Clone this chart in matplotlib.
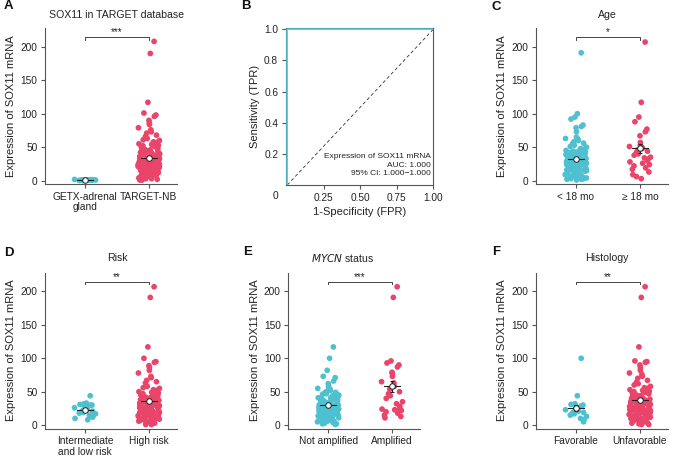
import numpy as np
import matplotlib
matplotlib.use("Agg")
import matplotlib.pyplot as plt

plt.rcParams['font.family'] = ['Liberation Sans', 'DejaVu Sans']

TEAL = '#4ec0cf'
RED = '#e9446a'
SPINE = '#555555'
TXT = '#222222'

W, H = 677, 459

# ---------------- data ----------------
a_labels = ["GETX-adrenal\ngland", "TARGET-NB"]
a_gtex = [0.5, 0.8, 1.2, 0.3, 0.9, 1.5, 0.6, 1.0, 0.4, 1.8, 0.7, 1.1, 0.2, 1.3, 0.9, 0.6,
          0.4, 1.0, 0.7, 1.4]
a_nb = [208, 190, 117, 101, 98, 96, 90, 86, 84, 79, 76, 73, 71, 68, 66, 63, 61, 60, 58, 57,
        56, 55, 54, 53, 52, 51, 50,
        49, 47, 46, 46, 44, 43, 42, 42, 41, 40, 39, 39, 38, 37, 37, 36, 35, 35, 34, 34, 33, 32,
        32, 31, 31, 30, 30, 29, 29, 28, 28, 28, 27, 27, 26, 26, 26, 25, 25, 24, 24, 24, 23, 23,
        22, 22, 21, 21, 21, 20, 20, 19, 19, 18, 18, 17, 17, 16, 16, 15, 15, 14, 14, 13, 12, 12,
        11, 10, 9, 8, 7, 6, 5, 4, 3, 2, 1, 45, 38, 33, 27, 22, 18, 14, 10, 6, 3, 36, 29, 25, 20,
        16, 11, 8, 40, 34, 30, 23, 19, 13, 9, 5, 2, 43, 37, 31, 27, 24, 21, 17, 15, 12, 7, 4, 1,
        33, 28, 22, 18, 25, 20]

c_labels = ["< 18 mo", "\u2265 18 mo"]
c_young = [191, 100, 95, 92, 83, 81, 79, 73, 65, 63, 62, 60, 58, 56, 55, 53, 51, 50,
           48, 47, 46, 45, 44, 43, 42, 41, 40, 39, 38, 38, 37, 36, 35, 35, 34, 33, 33, 32,
           31, 31, 30, 30, 29, 29, 28, 28, 27, 27, 26, 26, 25, 25, 24, 24, 23, 22, 22, 21,
           21, 20, 19, 19, 18, 17, 16, 16, 15, 14, 13, 12, 11, 10, 9, 8, 7, 6, 5, 4, 3, 2,
           1, 44, 37, 30, 24, 18, 12, 6, 41, 34, 27, 21, 15, 9, 3, 36, 29, 23, 17, 11, 39,
           32, 26, 20, 14, 8, 2, 28, 22, 33]
c_old = [207, 117, 95, 88, 77, 73, 67, 57, 53, 51, 50, 48, 46, 44, 42, 40, 38, 35, 34, 32,
         30, 28, 26, 24, 22, 19, 17, 13, 9, 6, 3]

d_labels = ["Intermediate\nand low risk", "High risk"]
d_low = [44, 33, 32, 31, 30, 30, 29, 28, 27, 26, 25, 23, 22, 21, 20, 19, 18, 17, 15, 13,
         12, 10, 8]
d_high = [207, 191, 117, 100, 95, 94, 89, 86, 82, 78, 73, 71, 67, 65, 63, 58, 56, 55, 53,
          52, 51, 50, 49, 48, 47, 46, 45, 44, 43, 42, 41, 40, 40, 39, 38, 37, 37, 36, 35,
          35, 34, 33, 33, 32, 31, 31, 30, 30, 29, 28, 28, 27, 27, 26, 26, 25, 25, 24, 24,
          23, 22, 22, 21, 21, 20, 19, 19, 18, 17, 16, 16, 15, 14, 13, 12, 11, 10, 9, 8, 7,
          6, 5, 4, 3, 2, 1, 45, 38, 32, 26, 20, 14, 9, 4, 42, 36, 29, 23, 17, 12, 6, 1, 39,
          34, 27, 21, 15, 10, 44, 30, 24, 18]

e_labels = ["Not amplified", "Amplified"]
e_not = [117, 100, 82, 73, 71, 66, 62, 58, 57, 55, 53, 52, 50, 49, 48, 47, 46, 45, 44,
         43, 42, 41, 40, 39, 38, 38, 37, 36, 35, 35, 34, 33, 33, 32, 31, 31, 30, 30, 29,
         29, 28, 28, 27, 27, 26, 26, 25, 25, 24, 24, 23, 22, 22, 21, 21, 20, 19, 19, 18,
         17, 16, 16, 15, 14, 13, 12, 11, 10, 9, 8, 7, 6, 5, 4, 3, 2, 1, 44, 37, 30, 24, 18,
         12, 6, 41, 34, 27, 21, 15, 9, 3, 36, 29, 23, 17, 11, 39, 32, 26, 20, 14, 8, 2]
e_amp = [207, 191, 96, 93, 90, 87, 79, 77, 73, 65, 63, 58, 54, 50, 47, 44, 40, 35, 32, 28,
         25, 24, 23, 22, 20, 18, 15, 13, 11]

f_labels = ["Favorable", "Unfavorable"]
f_fav = [100, 44, 32, 31, 30, 29, 28, 27, 25, 23, 22, 21, 20, 19, 18, 17, 15, 13, 10, 8, 5]
f_unf = [207, 191, 117, 96, 95, 94, 90, 86, 82, 78, 76, 73, 70, 67, 64, 62, 60, 58, 56,
         55, 54, 53, 52, 51, 50, 49, 48, 47, 46, 45, 44, 43, 42, 41, 40, 40, 39, 38, 37,
         37, 36, 35, 35, 34, 33, 33, 32, 31, 31, 30, 30, 29, 28, 28, 27, 27, 26, 26, 25,
         25, 24, 24, 23, 22, 22, 21, 21, 20, 19, 19, 18, 17, 16, 16, 15, 14, 13, 12, 11,
         10, 9, 8, 7, 6, 5, 4, 3, 2, 1, 45, 38, 32, 26, 20, 14, 9, 4, 42, 36, 29, 23, 17,
         12, 6, 1, 39, 34, 27, 21, 15, 10, 44, 30, 24, 18, 35, 28, 22]

roc_fpr = [0.0, 0.0, 1.0]
roc_tpr = [0.0, 1.0, 1.0]

# ---------------- helpers ----------------
def add_axes_px(fig, left, top, right, bottom):
    return fig.add_axes([left / W, 1 - bottom / H, (right - left) / W, (bottom - top) / H])


def jitter(n, width):
    # deterministic, irregular horizontal spread (positions only)
    idx = np.arange(n) + 1.0
    u = np.sin(idx * 12.9898 + 78.233) * 43758.5453
    u = u - np.floor(u)
    return (u - 0.5) * 2 * width


def style_axes(ax):
    for s in ['top', 'right']:
        ax.spines[s].set_visible(False)
    for s in ['left', 'bottom']:
        ax.spines[s].set_color(SPINE)
        ax.spines[s].set_linewidth(0.8)
    ax.tick_params(colors=SPINE, labelcolor=TXT, labelsize=7.3, length=3, width=0.8, pad=2.5)


def strip_panel(ax, groups, labels, stars):
    colors = [TEAL, RED]
    for i, vals in enumerate(groups):
        v = np.asarray(vals, dtype=float)
        x = i + jitter(len(v), 0.17)
        ax.scatter(x, v, s=17, color=colors[i], edgecolors='none', zorder=2)
        m = v.mean()
        se = v.std(ddof=1) / np.sqrt(len(v))
        ax.plot([i - 0.13, i + 0.13], [m, m], color=TXT, lw=0.8, zorder=3)
        ax.errorbar([i], [m], yerr=[se], color=TXT, lw=0.8, capsize=1.5,
                    capthick=0.8, zorder=3)
        ax.scatter([i], [m], s=16, color='white', edgecolors=TXT, linewidths=0.7,
                   zorder=4)
    yb = 214
    ax.plot([0, 0, 1, 1], [yb - 3.5, yb, yb, yb - 3.5], color='#444444', lw=0.7)
    ax.text(0.5, yb + 0.5, stars, ha='center', va='bottom', fontsize=7, color=TXT)
    ax.set_xlim(-0.625, 1.44)
    ax.set_ylim(-5, 228)
    ax.set_yticks([0, 50, 100, 150, 200])
    ax.set_xticks([0, 1])
    style_axes(ax)
    ax.set_xticklabels(labels, fontsize=7.3, linespacing=1.05)
    ax.set_ylabel("Expression of SOX11 mRNA", fontsize=8, color=TXT, labelpad=3)


fig = plt.figure(figsize=(W / 100, H / 100), dpi=100)

# A
axA = add_axes_px(fig, 45, 28, 177, 184)
strip_panel(axA, [a_gtex, a_nb], a_labels, "***")
fig.text(117 / W, 1 - 15 / H, "SOX11 in TARGET database", ha='center', va='center',
         fontsize=7.6, color=TXT)

# B ROC
axB = add_axes_px(fig, 285.8, 28, 433.3, 185)
axB.plot(roc_fpr, roc_tpr, color=TEAL, lw=1.2, zorder=3)
axB.plot([0, 1], [0, 1], color='#333333', lw=0.6, ls=(0, (4, 3)))
axB.set_xlim(-0.01, 1.0)
axB.set_ylim(0, 1.008)
axB.set_xticks([0.25, 0.5, 0.75, 1.0])
axB.set_xticklabels(["0.25", "0.50", "0.75", "1.00"])
axB.set_yticks([0.2, 0.4, 0.6, 0.8, 1.0])
axB.set_yticklabels(["0.2", "0.4", "0.6", "0.8", "1.0"])
for s in axB.spines.values():
    s.set_color(SPINE)
    s.set_linewidth(0.8)
axB.tick_params(colors=SPINE, labelcolor=TXT, labelsize=7.3, length=3, width=0.8, pad=2.5)
axB.set_xlabel("1-Specificity (FPR)", fontsize=8, color=TXT, labelpad=3)
axB.set_ylabel("Sensitivity (TPR)", fontsize=8, color=TXT, labelpad=3)
fig.text(275 / W, 1 - 196 / H, "0", ha='center', va='center', fontsize=7.3, color=TXT)
axB.text(0.985, 0.05, "Expression of SOX11 mRNA\nAUC: 1.000\n95% CI: 1.000\u22121.000",
         ha='right', va='bottom', fontsize=6, linespacing=1.3, color=TXT,
         transform=axB.transAxes, multialignment='right')

# C
axC = add_axes_px(fig, 536, 28, 668, 184)
strip_panel(axC, [c_young, c_old], c_labels, "*")
fig.text(607 / W, 1 - 15 / H, "Age", ha='center', va='center', fontsize=7.6, color=TXT)

# D
axD = add_axes_px(fig, 45, 272.7, 177, 428.5)
strip_panel(axD, [d_low, d_high], d_labels, "**")
fig.text(117 / W, 1 - 258 / H, "Risk", ha='center', va='center', fontsize=7.6, color=TXT)

# E
axE = add_axes_px(fig, 288.3, 272.7, 420, 428.5)
strip_panel(axE, [e_not, e_amp], e_labels, "***")
fig.text(343 / W, 1 - 258 / H, r"$\mathit{MYCN}$ status", ha='center', va='center',
         fontsize=7.6, color=TXT)

# F
axF = add_axes_px(fig, 536, 272.7, 668, 428.5)
strip_panel(axF, [f_fav, f_unf], f_labels, "**")
fig.text(607 / W, 1 - 258 / H, "Histology", ha='center', va='center', fontsize=7.6,
         color=TXT)

# panel letters
for lab, x, y in [("A", 4, 6), ("B", 241, 6), ("C", 492, 7),
                  ("D", 4, 253), ("E", 243, 252), ("F", 492, 252)]:
    fig.text(x / W, 1 - y / H, lab, ha='left', va='center', fontsize=9.5,
             fontweight='bold', color='#111111')

fig.savefig("out.png", dpi=100)
